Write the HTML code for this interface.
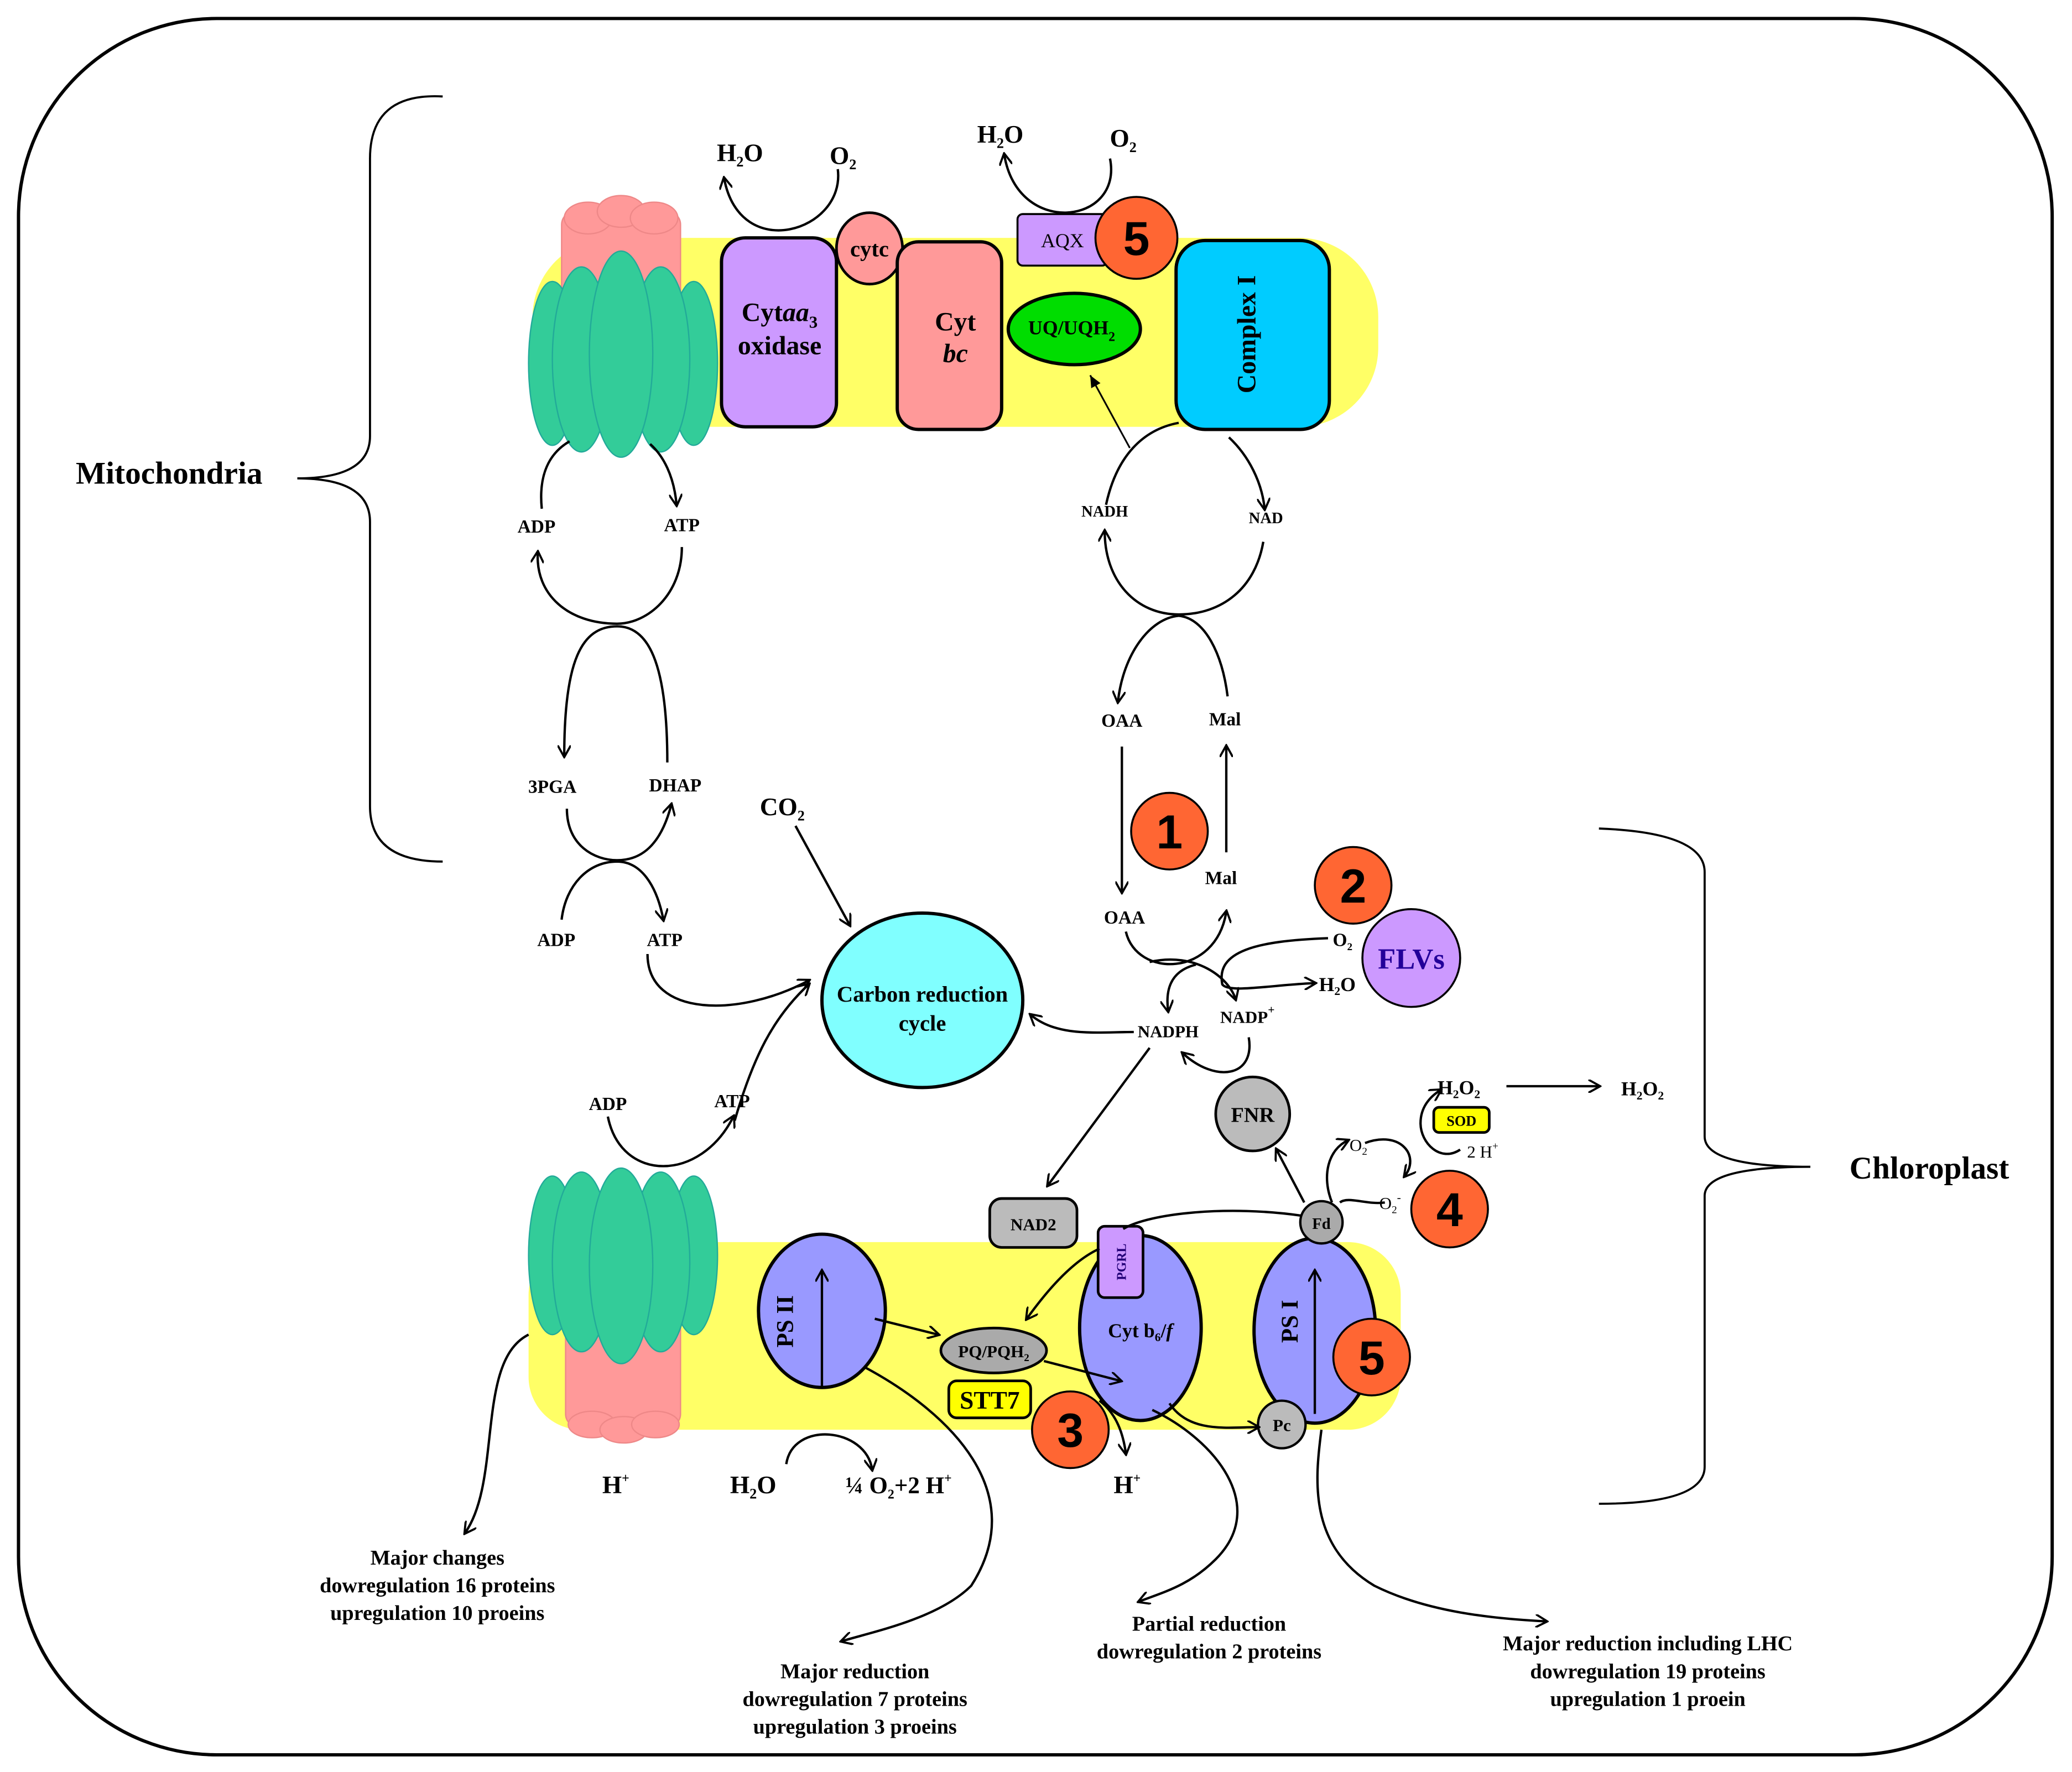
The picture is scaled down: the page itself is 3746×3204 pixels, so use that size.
<!DOCTYPE html>
<html><head><meta charset="utf-8"><style>html,body{margin:0;padding:0;background:#fff}svg{display:block}</style></head><body>
<svg width="3746" height="3204" viewBox="0 0 1568 1341" preserveAspectRatio="none" xmlns="http://www.w3.org/2000/svg" font-family="Liberation Serif, serif" font-weight="bold">
<defs><marker id="a" markerWidth="10" markerHeight="10" refX="8" refY="5" orient="auto" markerUnits="userSpaceOnUse"><path d="M0,0 L9,5 L0,10" fill="none" stroke="#000" stroke-width="1.6"/></marker>
<marker id="t" markerWidth="10" markerHeight="8" refX="9" refY="4" orient="auto" markerUnits="userSpaceOnUse"><path d="M0,0 L9,4 L0,8 z" fill="#000"/></marker></defs>
<rect x="14" y="14" width="1539" height="1314" rx="150" fill="#fff" stroke="#000" stroke-width="2.5"/>
<g fill="none" stroke="#000" stroke-width="1.6">
<path d="M335,73 Q280,70 280,120 L280,330 Q280,362 225,362 Q280,362 280,395 L280,610 Q280,652 335,652"/>
<path d="M1210,627 Q1290,630 1290,660 L1290,860 Q1290,883 1370,883 Q1290,883 1290,905 L1290,1110 Q1290,1138 1210,1138"/>
</g>
<text x="128" y="366" font-size="24" text-anchor="middle">Mitochondria</text>
<text x="1460" y="892" font-size="24" text-anchor="middle">Chloroplast</text>
<!-- mito membrane -->
<rect x="403" y="180" width="640" height="143" rx="60" fill="#ffff66"/>
<g fill="#f99" stroke="#e88" stroke-width="1"><rect x="425" y="160" width="90" height="90" rx="10"/><ellipse cx="445" cy="165" rx="18" ry="12"/><ellipse cx="470" cy="160" rx="18" ry="12"/><ellipse cx="495" cy="165" rx="18" ry="12"/></g>
<g fill="#33cc99" stroke="#2a9" stroke-width="1"><ellipse cx="418" cy="275" rx="18" ry="62"/><ellipse cx="525" cy="275" rx="18" ry="62"/><ellipse cx="440" cy="272" rx="22" ry="70"/><ellipse cx="500" cy="272" rx="22" ry="70"/><ellipse cx="470" cy="268" rx="24" ry="78"/></g>
<rect x="546" y="180" width="87" height="143" rx="18" fill="#cc99ff" stroke="#000" stroke-width="2.5"/>
<text x="590" y="243" font-size="20" text-anchor="middle">Cyt<tspan font-style="italic">aa</tspan><tspan font-size="13" dy="5">3</tspan></text>
<text x="590" y="268" font-size="20" text-anchor="middle">oxidase</text>
<ellipse cx="658" cy="188" rx="25" ry="27" fill="#f99" stroke="#000" stroke-width="2"/>
<text x="658" y="194" font-size="17" text-anchor="middle">cytc</text>
<rect x="679" y="183" width="79" height="142" rx="16" fill="#f99" stroke="#000" stroke-width="2.5"/>
<text x="723" y="250" font-size="20" text-anchor="middle">Cyt</text>
<text x="723" y="274" font-size="20" text-anchor="middle" font-style="italic">bc</text>
<rect x="770" y="162" width="68" height="39" rx="4" fill="#cc99ff" stroke="#000" stroke-width="1.5"/>
<text x="804" y="187" font-size="15" text-anchor="middle" font-weight="normal">AQX</text>
<circle cx="860" cy="180" r="31" fill="#ff6633" stroke="#000" stroke-width="1.5"/>
<text x="860" y="193" font-size="36" text-anchor="middle" font-family="Liberation Sans, sans-serif">5</text>
<ellipse cx="813" cy="249" rx="50" ry="27" fill="#00dd00" stroke="#000" stroke-width="2.5"/>
<text x="811" y="253" font-size="15" text-anchor="middle">UQ/UQH<tspan font-size="10" dy="5">2</tspan></text>
<rect x="890" y="182" width="116" height="143" rx="22" fill="#00ccff" stroke="#000" stroke-width="2.5"/>
<text transform="translate(950,253) rotate(-90)" font-size="20" text-anchor="middle">Complex I</text>
<text x="560" y="122" font-size="19" text-anchor="middle">H<tspan font-size="11" dy="4">2</tspan><tspan dy="-4">O</tspan></text>
<text x="638" y="124" font-size="19" text-anchor="middle">O<tspan font-size="11" dy="4">2</tspan></text>
<text x="757" y="108" font-size="19" text-anchor="middle">H<tspan font-size="11" dy="4">2</tspan><tspan dy="-4">O</tspan></text>
<text x="850" y="111" font-size="19" text-anchor="middle">O<tspan font-size="11" dy="4">2</tspan></text>
<g fill="none" stroke="#000" stroke-width="1.8">
<path d="M634,128 C640,175 560,200 548,135" marker-end="url(#a)"/>
<path d="M840,120 C850,170 770,180 760,117" marker-end="url(#a)"/>
<path d="M431,334 C412,345 408,365 410,385"/>
<path d="M492,336 C502,345 510,360 512,382" marker-end="url(#a)"/>
<path d="M516,414 C516,450 490,472 467,472 C430,472 405,450 407,418" marker-end="url(#a)"/>
<path d="M505,577 C505,500 490,474 467,474 C440,474 427,500 427,572" marker-end="url(#a)"/>
<path d="M429,612 C429,640 450,651 467,651 C485,651 500,640 508,609" marker-end="url(#a)"/>
<path d="M425,696 C428,670 445,652 467,652 C485,652 497,670 502,696" marker-end="url(#a)"/>
<path d="M490,722 C490,770 560,770 612,742" marker-end="url(#a)"/>
<path d="M602,625 L643,700" marker-end="url(#a)"/>
<path d="M460,845 C470,895 530,895 555,845" marker-end="url(#a)"/>
<path d="M556,848 C570,800 585,770 612,745" marker-end="url(#a)"/>
<path d="M837,382 C845,345 865,325 892,320"/>
<path d="M855,339 L825,284" stroke-width="1.3" marker-end="url(#t)"/>
<path d="M930,331 C945,345 955,365 957,385" marker-end="url(#a)"/>
<path d="M956,410 C950,445 925,465 892,465 C860,465 836,440 836,402" marker-end="url(#a)"/>
<path d="M892,466 C870,468 850,495 846,531" marker-end="url(#a)"/>
<path d="M892,466 C912,468 925,495 929,527"/>
<path d="M849,565 L849,675" marker-end="url(#a)"/>
<path d="M928,645 L928,565" marker-end="url(#a)"/>
<path d="M852,705 C860,740 920,740 928,690" marker-end="url(#a)"/>
<path d="M870,728 C905,720 930,740 935,756" marker-end="url(#a)"/>
<path d="M1005,710 C950,712 920,720 925,745 C930,752 965,745 995,744" marker-end="url(#a)"/>
<path d="M905,730 C885,735 882,750 884,765" marker-end="url(#a)"/>
<path d="M858,781 C830,781 800,785 780,768" marker-end="url(#a)"/>
<path d="M870,793 L793,897" marker-end="url(#a)"/>
<path d="M945,785 C950,815 920,820 895,797" marker-end="url(#a)"/>
<path d="M987,910 L966,870" marker-end="url(#a)"/>
<path d="M1008,910 C1000,890 1005,870 1020,863" marker-end="url(#a)"/>
<path d="M1048,910 C1035,912 1020,905 1014,910"/>
<path d="M1033,865 C1060,855 1075,875 1063,890" marker-end="url(#a)"/>
<path d="M1105,870 C1090,880 1075,865 1075,850 C1075,838 1082,830 1090,825" marker-end="url(#a)"/>
<path d="M1140,822 L1210,822" marker-end="url(#a)"/>
</g>
<g font-size="14" text-anchor="middle">
<text x="406" y="403">ADP</text><text x="516" y="402">ATP</text>
<text x="418" y="600">3PGA</text><text x="511" y="599">DHAP</text>
<text x="421" y="716">ADP</text><text x="503" y="716">ATP</text>
<text x="460" y="840">ADP</text><text x="554" y="838">ATP</text>
<text x="836" y="391" font-size="12">NADH</text><text x="958" y="396" font-size="12">NAD</text>
<text x="849" y="550">OAA</text><text x="927" y="549">Mal</text>
<text x="851" y="699">OAA</text><text x="924" y="669">Mal</text>
<text x="884" y="785" font-size="13">NADPH</text>
<text x="944" y="774" font-size="13">NADP<tspan font-size="9" dy="-7">+</tspan></text>
<text x="1016" y="716" font-size="14">O<tspan font-size="8" dy="3">2</tspan></text>
<text x="1012" y="750" font-size="15">H<tspan font-size="9" dy="3">2</tspan><tspan dy="-3">O</tspan></text>
<text x="1104" y="828" font-size="15">H<tspan font-size="9" dy="3">2</tspan><tspan dy="-3">O</tspan><tspan font-size="9" dy="3">2</tspan></text>
<text x="1243" y="829" font-size="15">H<tspan font-size="9" dy="3">2</tspan><tspan dy="-3">O</tspan><tspan font-size="9" dy="3">2</tspan></text>
<text x="1028" y="871" font-size="13" font-weight="normal">O<tspan font-size="8" dy="3">2</tspan></text>
<text x="1052" y="915" font-size="13" font-weight="normal">O<tspan font-size="8" dy="3">2</tspan><tspan font-size="9" dy="-9">-</tspan></text>
<text x="1122" y="876" font-size="13" font-weight="normal">2 H<tspan font-size="8" dy="-6">+</tspan></text>
</g>
<text x="592" y="617" font-size="19" text-anchor="middle">CO<tspan font-size="11" dy="4">2</tspan></text>
<ellipse cx="698" cy="757" rx="76" ry="66" fill="#80ffff" stroke="#000" stroke-width="2.5"/>
<text x="698" y="758" font-size="17" text-anchor="middle">Carbon reduction</text>
<text x="698" y="780" font-size="17" text-anchor="middle">cycle</text>
<circle cx="1068" cy="725" r="37" fill="#cc99ff" stroke="#000" stroke-width="1.5"/>
<text x="1068" y="733" font-size="22" text-anchor="middle" fill="#220099">FLVs</text>
<g fill="#ff6633" stroke="#000" stroke-width="1.5"><circle cx="885" cy="629" r="29"/><circle cx="1024" cy="670" r="29"/><circle cx="1097" cy="915" r="29"/></g>
<g font-size="36" text-anchor="middle" font-family="Liberation Sans, sans-serif"><text x="885" y="642">1</text><text x="1024" y="683">2</text><text x="1097" y="928">4</text></g>
<rect x="400" y="940" width="660" height="142" rx="40" fill="#ffff66"/>
<g fill="#f99" stroke="#e88" stroke-width="1"><rect x="428" y="985" width="87" height="95" rx="10"/><ellipse cx="448" cy="1078" rx="18" ry="10"/><ellipse cx="472" cy="1082" rx="18" ry="10"/><ellipse cx="496" cy="1078" rx="18" ry="10"/></g>
<g fill="#33cc99" stroke="#2a9" stroke-width="1"><ellipse cx="418" cy="950" rx="18" ry="60"/><ellipse cx="525" cy="950" rx="18" ry="60"/><ellipse cx="440" cy="955" rx="22" ry="68"/><ellipse cx="500" cy="955" rx="22" ry="68"/><ellipse cx="470" cy="958" rx="24" ry="74"/></g>
<ellipse cx="622" cy="992" rx="48" ry="58" fill="#9999ff" stroke="#000" stroke-width="2.5"/>
<text transform="translate(600,1000) rotate(-90)" font-size="18" text-anchor="middle">PS II</text>
<path d="M622,1050 L622,962" stroke="#000" stroke-width="1.8" marker-end="url(#a)"/>
<ellipse cx="752" cy="1022" rx="40" ry="17" fill="#aaa" stroke="#000" stroke-width="2"/>
<text x="752" y="1027" font-size="13" text-anchor="middle">PQ/PQH<tspan font-size="8" dy="3">2</tspan></text>
<rect x="718" y="1045" width="62" height="28" rx="6" fill="#ffff00" stroke="#000" stroke-width="2"/>
<text x="749" y="1066" font-size="19" text-anchor="middle">STT7</text>
<circle cx="810" cy="1082" r="29" fill="#ff6633" stroke="#000" stroke-width="1.5"/>
<text x="810" y="1095" font-size="36" text-anchor="middle" font-family="Liberation Sans, sans-serif">3</text>
<ellipse cx="863" cy="1005" rx="46" ry="70" fill="#9999ff" stroke="#000" stroke-width="2.5"/>
<text x="863" y="1012" font-size="15" text-anchor="middle">Cyt b<tspan font-size="9" dy="3">6</tspan><tspan dy="-3">/</tspan><tspan font-style="italic">f</tspan></text>
<rect x="831" y="928" width="34" height="54" rx="5" fill="#cc99ff" stroke="#000" stroke-width="2"/>
<text transform="translate(852,955) rotate(-90)" font-size="10" text-anchor="middle" fill="#220077">PGRL</text>
<ellipse cx="995" cy="1007" rx="46" ry="70" fill="#9999ff" stroke="#000" stroke-width="2.5"/>
<text transform="translate(982,1000) rotate(-90)" font-size="18" text-anchor="middle">PS I</text>
<path d="M995,1070 L995,962" stroke="#000" stroke-width="1.8" marker-end="url(#a)"/>
<circle cx="1038" cy="1027" r="29" fill="#ff6633" stroke="#000" stroke-width="1.5"/>
<text x="1038" y="1040" font-size="36" text-anchor="middle" font-family="Liberation Sans, sans-serif">5</text>
<circle cx="970" cy="1078" r="18" fill="#bbb" stroke="#000" stroke-width="1.8"/>
<text x="970" y="1083" font-size="13" text-anchor="middle">Pc</text>
<circle cx="1000" cy="925" r="16" fill="#aaa" stroke="#000" stroke-width="1.8"/>
<text x="1000" y="930" font-size="12" text-anchor="middle">Fd</text>
<rect x="749" y="907" width="66" height="37" rx="9" fill="#bbb" stroke="#000" stroke-width="2"/>
<text x="782" y="931" font-size="13" text-anchor="middle">NAD2</text>
<circle cx="948" cy="843" r="28" fill="#bbb" stroke="#000" stroke-width="2"/>
<text x="948" y="849" font-size="16" text-anchor="middle">FNR</text>
<rect x="1085" y="838" width="42" height="19" rx="4" fill="#ffff00" stroke="#000" stroke-width="2"/>
<text x="1106" y="852" font-size="11" text-anchor="middle">SOD</text>
<g fill="none" stroke="#000" stroke-width="1.8">
<path d="M985,920 C930,912 870,918 850,930"/>
<path d="M832,945 C810,955 790,980 777,998" marker-end="url(#a)"/>
<path d="M662,998 L710,1010" marker-end="url(#a)"/>
<path d="M790,1030 L848,1045" marker-end="url(#a)"/>
<path d="M832,1060 C845,1070 850,1085 852,1100" marker-end="url(#a)"/>
<path d="M885,1062 C900,1085 930,1080 952,1080" marker-end="url(#a)"/>
<path d="M595,1108 C600,1075 655,1080 660,1112" marker-end="url(#a)"/>
<path d="M400,1010 C360,1030 380,1120 352,1160" marker-end="url(#a)"/>
<path d="M655,1035 C720,1070 780,1130 735,1200 C710,1225 660,1235 637,1242" marker-end="url(#a)"/>
<path d="M872,1067 C920,1090 960,1140 920,1180 C900,1200 880,1205 862,1212" marker-end="url(#a)"/>
<path d="M1000,1082 C995,1120 990,1170 1040,1200 C1080,1220 1130,1225 1170,1227" marker-end="url(#a)"/>
</g>
<g font-size="19" text-anchor="middle">
<text x="466" y="1130">H<tspan font-size="10" dy="-8">+</tspan></text>
<text x="570" y="1130">H<tspan font-size="11" dy="4">2</tspan><tspan dy="-4">O</tspan></text>
<text x="680" y="1130" font-size="18">¼ O<tspan font-size="10" dy="4">2</tspan><tspan dy="-4">+2 H</tspan><tspan font-size="10" dy="-8">+</tspan></text>
<text x="853" y="1130">H<tspan font-size="10" dy="-8">+</tspan></text>
</g>
<g font-size="16" text-anchor="middle">
<text x="331" y="1184">Major changes</text><text x="331" y="1205">dowregulation 16 proteins</text><text x="331" y="1226">upregulation  10 proeins</text>
<text x="647" y="1270">Major reduction</text><text x="647" y="1291">dowregulation 7 proteins</text><text x="647" y="1312">upregulation 3 proeins</text>
<text x="915" y="1234">Partial reduction</text><text x="915" y="1255">dowregulation 2 proteins</text>
<text x="1247" y="1249">Major reduction including LHC</text><text x="1247" y="1270">dowregulation 19 proteins</text><text x="1247" y="1291">upregulation 1 proein</text>
</g>
</svg>
</body></html>
